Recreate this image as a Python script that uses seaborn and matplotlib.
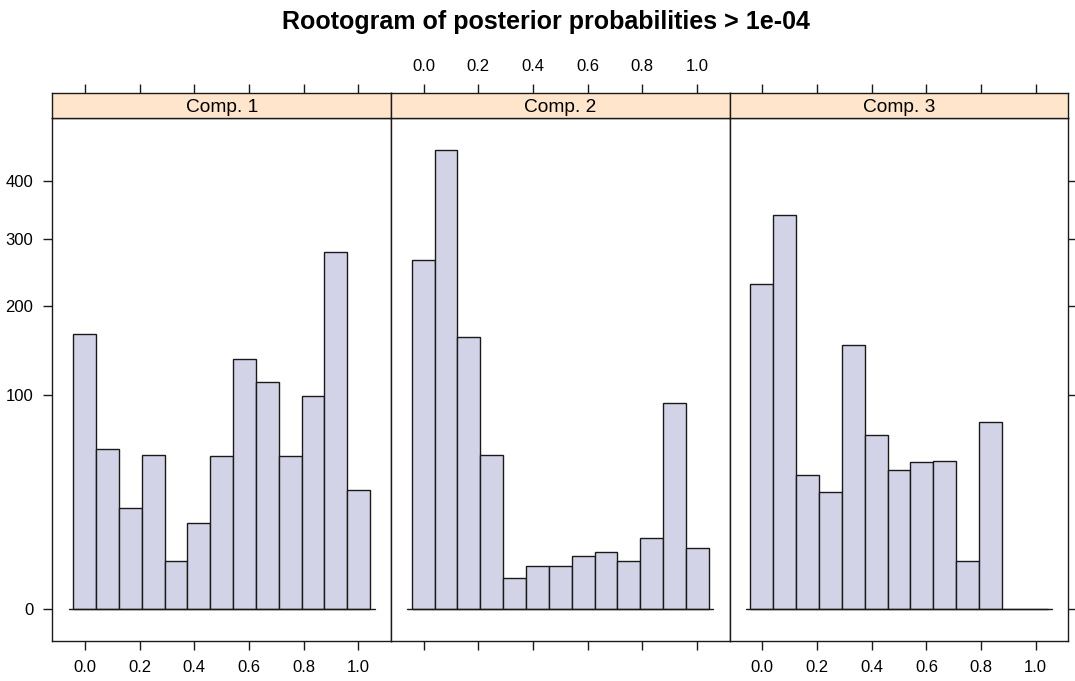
import numpy as np
import pandas as pd
import matplotlib
matplotlib.use("Agg")
import matplotlib.pyplot as plt
import seaborn as sns

# Counts of posterior probabilities per bin, one list per mixture component
components = ["Comp. 1", "Comp. 2", "Comp. 3"]
comp1_counts = [165, 56, 22, 52, 5, 16, 51, 137, 113, 51, 99, 279, 31]
comp2_counts = [267, 460, 162, 52, 2, 4, 4, 6, 7, 5, 11, 93, 8]
comp3_counts = [231, 340, 39, 30, 152, 66, 42, 47, 48, 5, 76, 0, 0]
bin_low, bin_high = -0.0433, 1.0433
x_ticks = [0.0, 0.2, 0.4, 0.6, 0.8, 1.0]
x_tick_labels = ["0.0", "0.2", "0.4", "0.6", "0.8", "1.0"]
y_ticks = [0, 100, 200, 300, 400]
y_tick_labels = ["0", "100", "200", "300", "400"]
title = "Rootogram of posterior probabilities > 1e-04"

sns.set_style("white")
plt.rcParams["font.family"] = ["Liberation Sans", "DejaVu Sans"]

n_bins = len(comp1_counts)
edges = np.linspace(bin_low, bin_high, n_bins + 1)
centers = (edges[:-1] + edges[1:]) / 2
frames = []
for name, counts in zip(components, [comp1_counts, comp2_counts, comp3_counts]):
    frames.append(pd.DataFrame({"component": name, "prob": centers, "count": counts}))
data = pd.concat(frames, ignore_index=True)

FILL = "#D3D3E8"
STRIP = "#FFE5CC"
EDGE = "#1a1a1a"
LW = 1.0


def fwd(y):
    y = np.asarray(y, dtype=float)
    return np.sign(y) * np.sqrt(np.abs(y))


def inv(y):
    y = np.asarray(y, dtype=float)
    return np.sign(y) * y ** 2


W, H = 1075, 681
fig = plt.figure(figsize=(W / 100, H / 100), dpi=100)

panel_w = 338.67
panel_left = [52.3, 391.0, 729.7]
panel_top, panel_bot = 118.3, 640.7
strip_h = 25.0

# padded limits (7% of data range on each side)
span = bin_high - bin_low
xlim = (bin_low - 0.07 * span, bin_high + 0.07 * span)
ymax_sqrt = np.sqrt(data["count"].max())
ylim = (float(inv(-0.07 * ymax_sqrt)), float(inv(ymax_sqrt * 1.07)))

tick_kw = dict(direction="out", length=6.8, width=LW, color=EDGE, pad=7,
               labelsize=12, labelcolor="black")

for i, name in enumerate(components):
    x0 = panel_left[i]
    ax = fig.add_axes([x0 / W, (H - panel_bot) / H, panel_w / W,
                       (panel_bot - panel_top) / H])
    ax.set_yscale("function", functions=(fwd, inv))
    sub = data[data["component"] == name]
    sns.histplot(data=sub, x="prob", weights="count", bins=n_bins,
                 binrange=(bin_low, bin_high), ax=ax,
                 color=FILL, edgecolor=EDGE, linewidth=LW, alpha=1)
    pad = 0.016
    ax.plot([edges[0] - pad, edges[-1] + pad], [0, 0], color=EDGE, lw=LW)
    ax.set_xlim(*xlim)
    ax.set_ylim(*ylim)
    ax.set_xlabel("")
    ax.set_ylabel("")
    for s in ax.spines.values():
        s.set_color(EDGE)
        s.set_linewidth(LW)

    ax.set_xticks(x_ticks)
    ax.set_xticklabels(x_tick_labels)
    ax.tick_params(axis="x", bottom=True, top=False, labelbottom=(i != 1),
                   **tick_kw)
    ax.set_yticks(y_ticks)
    ax.set_yticklabels(y_tick_labels)
    if i == 0:
        ax.tick_params(axis="y", left=True, right=False, labelleft=True,
                       labelright=False, **tick_kw)
    elif i == 2:
        ax.tick_params(axis="y", left=False, right=True, labelleft=False,
                       labelright=False, **tick_kw)
    else:
        ax.tick_params(axis="y", left=False, right=False, labelleft=False,
                       labelright=False)
    ax.minorticks_off()

    # strip with the component name; top ticks sit on the strip
    sax = fig.add_axes([x0 / W, (H - panel_top) / H, panel_w / W, strip_h / H])
    sax.set_facecolor(STRIP)
    sax.set_xlim(*xlim)
    sax.set_ylim(0, 1)
    for s in sax.spines.values():
        s.set_color(EDGE)
        s.set_linewidth(LW)
    sax.set_yticks([])
    sax.set_xticks(x_ticks)
    sax.set_xticklabels(x_tick_labels)
    sax.tick_params(axis="x", bottom=False, top=True, labelbottom=False,
                    labeltop=(i == 1), **tick_kw)
    sax.text(0.5, 0.45, name, transform=sax.transAxes, ha="center",
             va="center", fontsize=13.8, color="black")

fig.text(545.5 / W, 1 - 22 / H, title, ha="center", va="center",
         fontsize=18, fontweight="bold", color="black")

fig.savefig("out.png", dpi=100, facecolor="white")
